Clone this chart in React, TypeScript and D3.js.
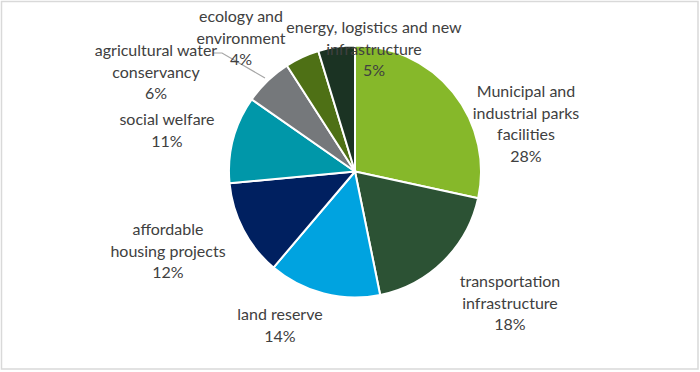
import React from "react";
import * as d3 from "d3";

const categories = [
  "Municipal and|industrial parks|facilities",
  "transportation|infrastructure",
  "land reserve",
  "affordable|housing projects",
  "social welfare",
  "agricultural water|conservancy",
  "ecology and|environment",
  "energy, logistics and new|infrastructure",
];
const values = [28.4, 18.4, 14.4, 12.3, 11.2, 6.2, 4.4, 4.7];
const percentLabels = ["28%", "18%", "14%", "12%", "11%", "6%", "4%", "5%"];
const colors = ["#86b82a", "#2c5234", "#00a3e0", "#002060", "#0097a9", "#75787b", "#4e7015", "#1b3323"];

// label layout (centre x, first baseline y)
const labelPos: [number, number][] = [
  [526, 97],
  [510, 287],
  [280, 320],
  [168, 235],
  [167, 125],
  [156, 56],
  [241, 22],
  [374, 33],
];

const W = 700, H = 372;
const cx = 355, cy = 171.5, R = 126;
const LH = 21.7;

export default function App() {
  const pie = d3.pie<number>().sort(null).startAngle(0).endAngle(2 * Math.PI);
  const arcs = pie(values);
  const arc = d3.arc<d3.PieArcDatum<number>>().innerRadius(0).outerRadius(R);
  const leader = d3.line()([[213, 53], [222, 53], [265, 78]]);
  return (
    <svg width={W} height={H} style={{ position: "absolute", left: 0, top: 0 }}>
      <rect x={1.5} y={1.5} width={696.5} height={367.5} fill="#fff" stroke="#d9d9d9" strokeWidth={1.5} />
      <g transform={`translate(${cx},${cy})`}>
        {arcs.map((a, i) => (
          <path key={i} d={arc(a) || ""} fill={colors[i]} stroke="#fff" strokeWidth={2} strokeLinejoin="round" />
        ))}
      </g>
      <path d={leader || ""} fill="none" stroke="#a6a6a6" strokeWidth={1.2} />
      {categories.map((c, i) => {
        const lines = [...c.split("|"), percentLabels[i]];
        return (
          <text key={i} x={labelPos[i][0]} y={labelPos[i][1]} textAnchor="middle" fontFamily="Lato, sans-serif" fontSize={16} fill="#404040">
            {lines.map((l, j) => (
              <tspan key={j} x={labelPos[i][0]} dy={j === 0 ? 0 : LH}>{l}</tspan>
            ))}
          </text>
        );
      })}
    </svg>
  );
}
